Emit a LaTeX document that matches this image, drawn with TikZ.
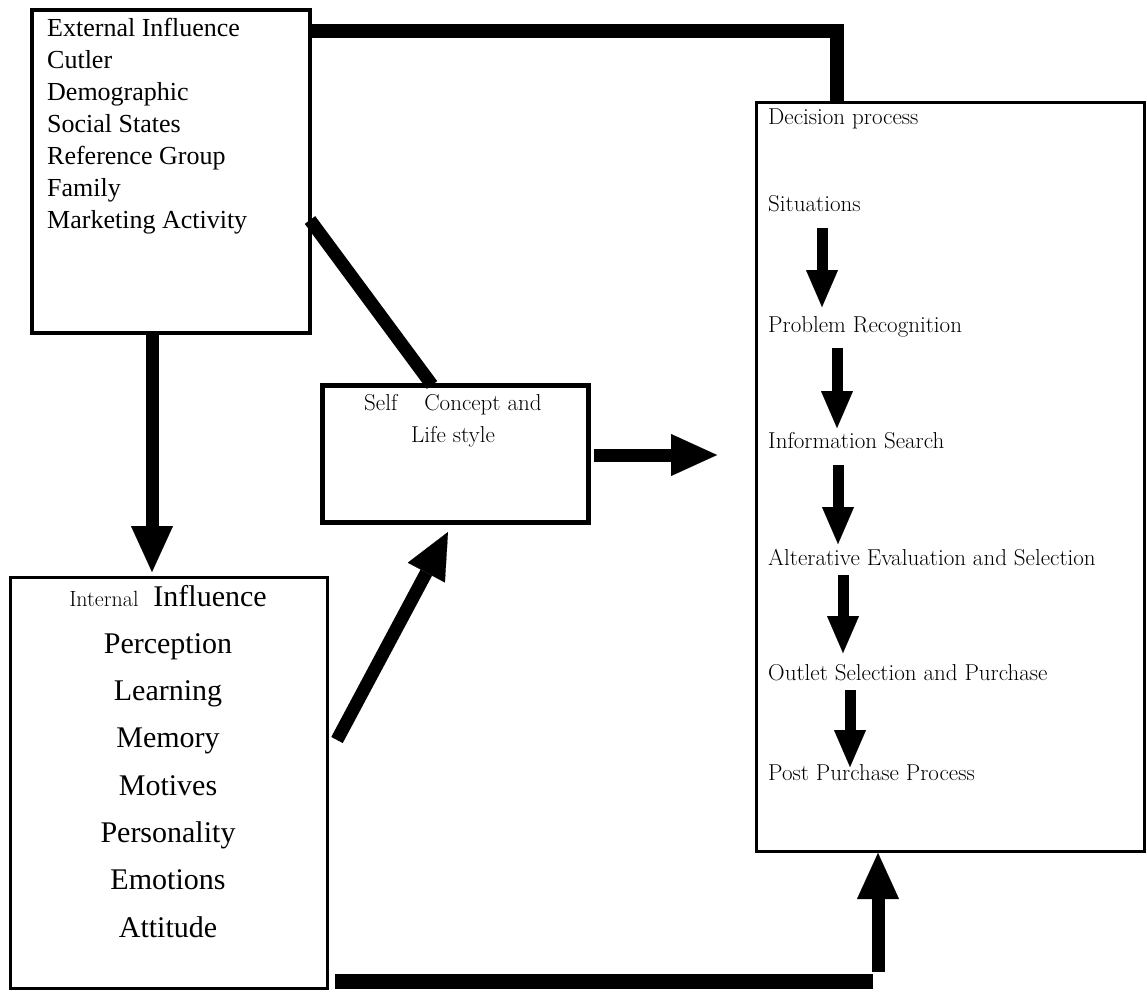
\documentclass[tikz,border=0pt]{standalone}
\usepackage{fontspec}
\newfontfamily\timesf{Liberation Serif}
\usetikzlibrary{arrows.meta,calc}
\begin{document}
\begin{tikzpicture}[x=1pt,y=-1pt,
  boxshape/.style={draw,inner sep=0pt,outer sep=0pt},
  exttext/.style={anchor=base west,inner sep=0pt,font=\timesf\fontsize{26}{26}\selectfont},
  inttext/.style={anchor=base,inner sep=0pt,font=\timesf\fontsize{30}{30}\selectfont},
  dectext/.style={anchor=base west,inner sep=0pt,font=\fontsize{23}{23}\selectfont},
  selftext/.style={inner sep=0pt,font=\fontsize{23}{23}\selectfont},
  bigarrow/.style={line width=13pt,-{Triangle[width=42pt,length=46pt,line width=0.1pt]}},
  smallarrow/.style={line width=11pt,-{Triangle[width=32pt,length=37pt,line width=0.1pt]}},
  thickline/.style={line width=14pt}]
\useasboundingbox (0,0) rectangle (1147,992);
\fill[white] (0,0) rectangle (1147,992);

% boxes
\node[boxshape,line width=4.5pt,minimum width=278pt,minimum height=323pt] (ext) at (171,171.5) {};
\node[boxshape,line width=3pt,minimum width=317pt,minimum height=411pt] (int) at (168.5,782.5) {};
\node[boxshape,line width=5pt,minimum width=266pt,minimum height=137pt] (self) at (455,453.5) {};
\node[boxshape,line width=3pt,minimum width=388pt,minimum height=748pt] (dec) at (950,477) {};

% external texts
\foreach \t [count=\i] in {External Influence,Cutler,Demographic,Social States,Reference Group,Family,Marketing Activity}{
  \pgfmathsetmacro{\yy}{37+32*(\i-1)}
  \node[exttext] (e\i) at (47,\yy) {\t};
}

% internal texts
\node[inttext] (i0) at (168,606) {{\fontspec{Latin Modern Roman}\fontsize{22}{22}\selectfont Internal}\hspace{15pt}Influence};
\foreach \t/\yy [count=\i] in {Perception/653,Learning/700,Memory/747,Motives/795,Personality/842,Emotions/889,Attitude/937}{
  \node[inttext] (i\i) at (168,\yy) {\t};
}

% self concept texts
\node[selftext,anchor=base west] (s1) at (364,410) {Self\hspace{27pt}Concept and};
\node[selftext,anchor=base] (s2) at (453,442) {Life style};

% decision texts
\node[dectext] (d0) at (768,125) {Decision process};
\node[dectext] (d1) at (768,212) {Situations};
\node[dectext] (d2) at (768,332) {Problem Recognition};
\node[dectext] (d3) at (768,448) {Information Search};
\node[dectext] (d4) at (768,565) {Alterative Evaluation and Selection};
\node[dectext] (d5) at (768,680) {Outlet Selection and Purchase};
\node[dectext] (d6) at (768,780) {Post Purchase Process};

% arrows inside decision box
\draw[smallarrow] ($(d1.base west)+(54,16)$) -- ($(d2.base west)+(54,-25)$);
\draw[smallarrow] ($(d2.base west)+(69,16)$) -- ($(d3.base west)+(69,-20)$);
\draw[smallarrow] ($(d3.base west)+(70,17)$) -- ($(d4.base west)+(70,-21)$);
\draw[smallarrow] ($(d4.base west)+(75,10)$) -- ($(d5.base west)+(75,-27)$);
\draw[smallarrow] ($(d5.base west)+(82,10)$) -- ($(d6.base west)+(82,-13)$);

% connectors
\coordinate (tc) at (837,31);
\draw[thickline] (ext.east |- tc) -- (tc) -- (tc |- dec.north);
\draw[line width=13pt] (ext.east |- 0,220) -- (self.north -| 432,0);
\draw[bigarrow] (ext.south -| 152,0) -- (152,572);
\draw[bigarrow] (337,740) -- (448,532);
\draw[bigarrow] ($(self.east)+(6,1.5)$) -- (717,455);
\coordinate (bc) at (873,981.5);
\draw[line width=15pt] (int.east |- bc) ++(8,0) -- (bc);
\draw[bigarrow] (878,972) -- (878,853);
\end{tikzpicture}
\end{document}
